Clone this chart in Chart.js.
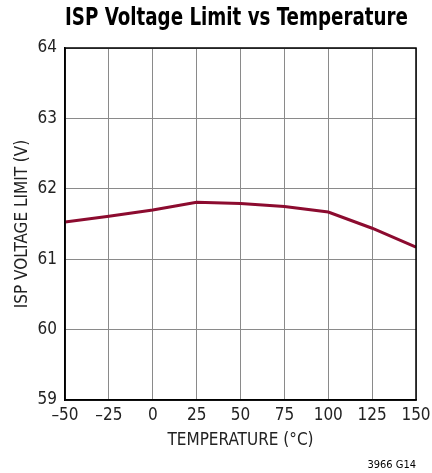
<!DOCTYPE html>
<html>
<head>
<meta charset="utf-8">
<script src="https://cdn.jsdelivr.net/npm/chart.js@4"></script>
<style>
  html, body { margin: 0; padding: 0; background: #fff; }
  #wrap { width: 432px; height: 473px; }
</style>
</head>
<body>
<div id="wrap"><canvas id="chart" width="432" height="473"></canvas></div>
<script>
const FONT = '"Liberation Sans Narrow", "DejaVu Sans Condensed", "Liberation Sans", sans-serif';

const temps = [-50, -25, 0, 25, 50, 75, 100, 125, 150];
const voltLimit = [61.53, 61.61, 61.70, 61.81, 61.79, 61.75, 61.67, 61.44, 61.17];
const xTicks = [-50, -25, 0, 25, 50, 75, 100, 125, 150];
const yTicks = [59, 60, 61, 62, 63, 64];

// title and part number drawn outside the plot
const extraText = {
  id: 'extraText',
  afterDraw(chart) {
    const ctx = chart.ctx;
    const title = 'ISP Voltage Limit vs Temperature';
    ctx.save();
    ctx.fillStyle = '#000';
    ctx.textAlign = 'center';
    ctx.textBaseline = 'middle';
    ctx.font = 'bold 25px ' + FONT;
    const w = ctx.measureText(title).width;
    ctx.translate(236.5, 18);
    ctx.scale(343 / w, 1);
    ctx.fillText(title, 0, 0);
    ctx.restore();

    ctx.save();
    ctx.fillStyle = '#000';
    ctx.font = '11px ' + FONT;
    ctx.textAlign = 'right';
    ctx.textBaseline = 'middle';
    ctx.fillText('3966 G14', 416, 465);
    ctx.restore();
  }
};

new Chart(document.getElementById('chart'), {
  type: 'line',
  data: {
    datasets: [{
      data: temps.map((t, i) => ({ x: t, y: voltLimit[i] })),
      borderColor: '#8c0b2f',
      borderWidth: 3,
      pointRadius: 0,
      tension: 0,
      fill: false
    }]
  },
  options: {
    responsive: false,
    animation: false,
    layout: { padding: { top: 48, right: 16, bottom: 0, left: 0 } },
    plugins: { legend: { display: false }, tooltip: { enabled: false } },
    scales: {
      x: {
        type: 'linear',
        min: -50,
        max: 150,
        afterBuildTicks: s => { s.ticks = xTicks.map(v => ({ value: v })); },
        afterFit: s => { s.height = 73; s.paddingLeft = 0; s.paddingRight = 0; },
        ticks: {
          color: '#222',
          padding: 5,
          font: { family: FONT, size: 17 },
          callback: v => String(v).replace('-', '\u2013')
        },
        grid: { color: '#8a8a8a', lineWidth: 1, drawTicks: false },
        border: { color: '#000', width: 1.5 },
        title: {
          display: true,
          text: 'TEMPERATURE (°C)',
          color: '#222',
          font: { family: FONT, size: 17 },
          padding: { top: 0, bottom: 22 }
        }
      },
      y: {
        min: 59,
        max: 64,
        afterBuildTicks: s => { s.ticks = yTicks.map(v => ({ value: v })); },
        afterFit: s => { s.width = 65; s.paddingTop = 0; s.paddingBottom = 0; },
        ticks: {
          color: '#222',
          padding: 8,
          font: { family: FONT, size: 17 }
        },
        grid: { color: '#8a8a8a', lineWidth: 1, drawTicks: false },
        border: { color: '#000', width: 1.5 },
        title: {
          display: true,
          text: 'ISP VOLTAGE LIMIT (V)',
          color: '#222',
          font: { family: FONT, size: 17 },
          padding: { top: 12, bottom: 0 }
        }
      }
    }
  },
  plugins: [extraText, {
    id: 'frame',
    afterDraw(chart) {
      const { ctx, chartArea: a } = chart;
      ctx.save();
      ctx.strokeStyle = '#000';
      ctx.lineWidth = 1.5;
      ctx.strokeRect(a.left, a.top, a.right - a.left, a.bottom - a.top);
      ctx.restore();
    }
  }]
});
</script>
</body>
</html>
